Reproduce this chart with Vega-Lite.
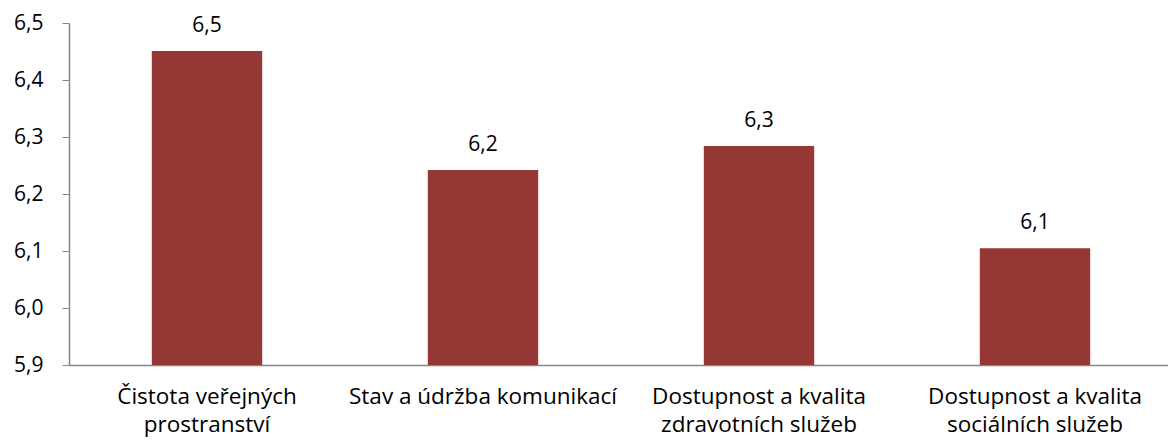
{
  "$schema": "https://vega.github.io/schema/vega-lite/v6.json",
  "width": 1104,
  "height": 342,
  "autosize": {"type": "none"},
  "padding": {"left": 69, "top": 23, "right": 0, "bottom": 81},
  "config": {
    "locale": {"number": {"decimal": ",", "thousands": " ", "grouping": [3], "currency": ["", " Kč"]}},
    "view": {"stroke": null},
    "font": "Open Sans",
    "background": "white"
  },
  "data": {
    "values": [
      {"kategorie": "Čistota veřejných|prostranství", "hodnota": 6.451},
      {"kategorie": "Stav a údržba komunikací", "hodnota": 6.242},
      {"kategorie": "Dostupnost a kvalita|zdravotních služeb", "hodnota": 6.284},
      {"kategorie": "Dostupnost a kvalita|sociálních služeb", "hodnota": 6.105}
    ]
  },
  "encoding": {
    "x": {
      "field": "kategorie",
      "type": "nominal",
      "sort": null,
      "scale": {"paddingInner": 0.6, "paddingOuter": 0.3},
      "axis": {
        "title": null,
        "labelAngle": 0,
        "ticks": false,
        "domainColor": "#868686",
        "domainWidth": 1.5,
        "labelFontSize": 22.5,
        "labelColor": "#000000",
        "labelPadding": 20,
        "labelLineHeight": 28,
        "labelLimit": 0,
        "labelExpr": "split(datum.label, '|')"
      }
    },
    "y": {
      "field": "hodnota",
      "type": "quantitative",
      "scale": {"domain": [5.9, 6.5], "zero": false, "nice": false},
      "axis": {
        "title": null,
        "values": [5.9, 6.0, 6.1, 6.2, 6.3, 6.4, 6.5],
        "format": ".1f",
        "grid": false,
        "domainColor": "#868686",
        "domainWidth": 1.5,
        "tickColor": "#868686",
        "tickSize": 7,
        "labelPadding": 19,
        "labelFontSize": 21,
        "labelColor": "#000000"
      }
    }
  },
  "layer": [
    {"mark": {"type": "bar", "color": "#953735", "clip": true}},
    {
      "mark": {"type": "text", "baseline": "alphabetic", "dy": -19, "fontSize": 21, "color": "#000000"},
      "encoding": {"text": {"field": "hodnota", "type": "quantitative", "format": ".1f"}}
    }
  ]
}
